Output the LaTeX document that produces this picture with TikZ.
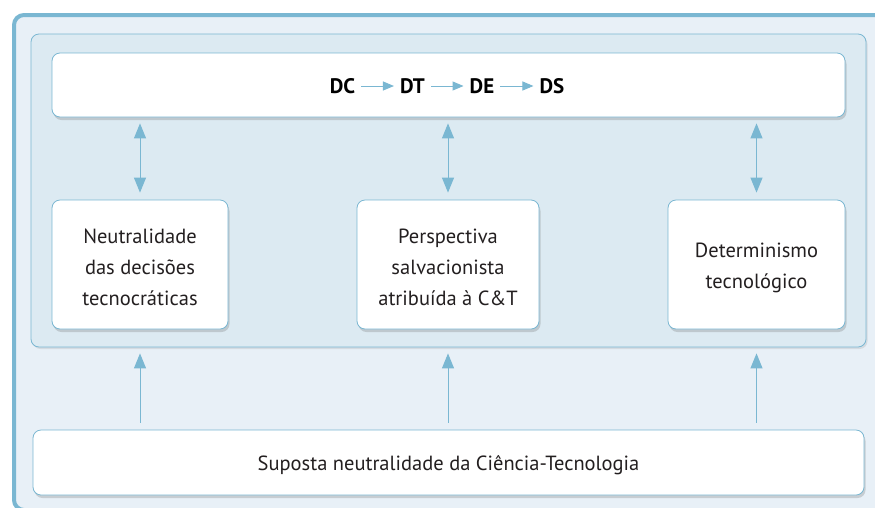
\documentclass[tikz,border=0pt]{standalone}
\usepackage{fontspec}
\setmainfont{PT Sans}
\usetikzlibrary{shadows,arrows.meta}
\definecolor{outerfill}{HTML}{E8F0F7}
\definecolor{panelfill}{HTML}{DCEAF2}
\definecolor{edge}{HTML}{7AB7D2}
\definecolor{txt}{HTML}{231F20}
\tikzset{
  box/.style={draw=edge, line width=0.8pt, fill=white, rounded corners=8pt,
    drop shadow={shadow xshift=1.5pt, shadow yshift=-3pt, opacity=0.25, fill=black!60},
    inner sep=0pt},
  boxtext/.style={align=center, text=txt, font=\fontsize{20.5}{31}\selectfont, inner sep=0pt, yshift=-3pt},
  conn/.style={draw=edge, line width=1pt, -{Triangle[length=15pt,width=12pt]}},
  dconn/.style={draw=edge, line width=1pt, {Triangle[length=15pt,width=12pt]}-{Triangle[length=15pt,width=12pt]}},
  seq/.style={font=\bfseries\fontsize{21}{24}\selectfont, text=black, inner sep=0pt},
  seqarr/.style={draw=edge, line width=1pt, -{Triangle[length=11pt,width=9pt]}, shorten <=6pt, shorten >=6pt},
}
\begin{document}
\begin{tikzpicture}[x=1pt,y=-1pt]
\useasboundingbox (0,0) rectangle (875,507);
\begin{scope}
\clip (0,0) rectangle (875,507);
\draw[edge, line width=4pt, fill=outerfill, rounded corners=10pt] (14,15) rectangle (900,510);
\end{scope}
\node[draw=edge, line width=0.8pt, fill=panelfill, rounded corners=8pt, minimum width=835pt, minimum height=313pt,
  drop shadow={shadow xshift=1.5pt, shadow yshift=-2pt, opacity=0.15, fill=black!60}] (panel) at (448.5,190.5) {};
\node[box, minimum width=793pt, minimum height=64pt] (top) at (448.5,85) {};
\node[seq] (dt) at (412.5,86) {DT};
\node[seq] (dc) at (342.5,86) {DC};
\node[seq] (de) at (482,86) {DE};
\node[seq] (ds) at (552,86) {DS};
\draw[seqarr] (dc) -- (dt);
\draw[seqarr] (dt) -- (de);
\draw[seqarr] (de) -- (ds);
\node[box, minimum width=176pt, minimum height=129pt,
  label={[boxtext]center:{Neutralidade\\das decisões\\tecnocráticas}}] (m1) at (140,264.5) {};
\node[box, minimum width=182pt, minimum height=129pt,
  label={[boxtext]center:{Perspectiva\\salvacionista\\atribuída à C\&T}}] (m2) at (448,264.5) {};
\node[box, minimum width=177pt, minimum height=129pt,
  label={[boxtext]center:{Determinismo\\tecnológico}}] (m3) at (756.5,264.5) {};
\node[box, minimum width=831pt, minimum height=65pt,
  label={[boxtext]center:{Suposta neutralidade da Ciência-Tecnologia}}] (bot) at (448.5,462.5) {};
\foreach \m in {m1,m2,m3}{
  \draw[dconn, shorten <=6pt, shorten >=7pt] (\m.north |- top.south) -- (\m.north);
  \draw[conn, shorten <=7pt, shorten >=6pt] (\m.north |- bot.north) -- (\m.north |- panel.south);
}
\end{tikzpicture}
\end{document}
